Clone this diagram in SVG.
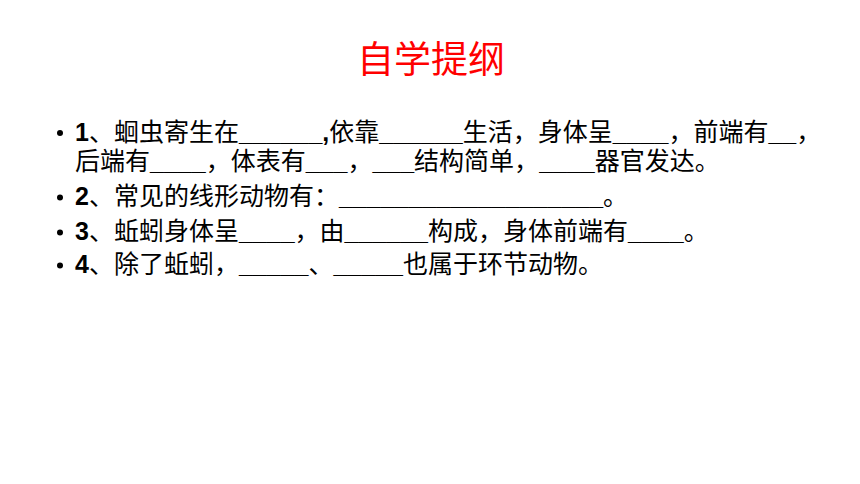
<svg xmlns="http://www.w3.org/2000/svg" width="860" height="484" viewBox="0 0 860 484">
<style>
.title{font-family:"Noto Sans CJK SC","Liberation Sans",sans-serif;font-size:37px;fill:#FF0000;text-anchor:middle}
.t{font-family:"Liberation Sans","Noto Sans CJK SC",sans-serif;font-size:25px;fill:#000}
.b{font-weight:bold}
.dot{fill:#000}
</style>
<rect width="860" height="484" fill="#FFFFFF"/>
<g id="title"><text class="title" x="431" y="73">自学提纲</text></g>
<g id="bullets">
<circle class="dot" cx="60" cy="133" r="3"/>
<circle class="dot" cx="60" cy="197.5" r="3"/>
<circle class="dot" cx="60" cy="232.5" r="3"/>
<circle class="dot" cx="60" cy="265.5" r="3"/>
</g>
<g id="item1">
<text class="t" x="75" y="141"><tspan class="b">1</tspan>、蛔虫寄生在<tspan class="b">______,</tspan>依靠<tspan class="b">______</tspan>生活，身体呈<tspan class="b">____</tspan>，前端有<tspan class="b">__</tspan>，</text>
<text class="t" x="75" y="170">后端有<tspan class="b">____</tspan>，体表有<tspan class="b">___</tspan>，<tspan class="b">___</tspan>结构简单，<tspan class="b">____</tspan>器官发达。</text>
</g>
<g id="item2"><text class="t" x="75" y="205"><tspan class="b">2</tspan>、常见的线形动物有：<tspan class="b">___________________</tspan>。</text></g>
<g id="item3"><text class="t" x="75" y="240"><tspan class="b">3</tspan>、蚯蚓身体呈<tspan class="b">____</tspan>，由<tspan class="b">______</tspan>构成，身体前端有<tspan class="b">____</tspan>。</text></g>
<g id="item4"><text class="t" x="75" y="273"><tspan class="b">4</tspan>、除了蚯蚓，<tspan class="b">_____</tspan>、<tspan class="b">_____</tspan>也属于环节动物。</text></g>
</svg>
